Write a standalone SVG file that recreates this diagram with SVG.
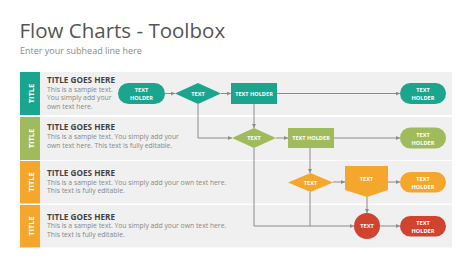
<svg xmlns="http://www.w3.org/2000/svg" width="474" height="266" viewBox="0 0 474 266">
<defs>
<marker id="ah" viewBox="0 0 6 6" refX="6" refY="3" markerWidth="4" markerHeight="4" orient="auto" markerUnits="userSpaceOnUse"><path d="M0,0 L6,3 L0,6 z" fill="#8c8c8c"/></marker>
</defs>
<style>
.h1{font-family:"Open Sans","Liberation Sans",sans-serif;font-size:20.5px;fill:#555}
.sub{font-family:"Open Sans","Liberation Sans",sans-serif;font-size:9px;fill:#8a8a8a}
.bg{fill:#f0f0f0}
.bar-text{font-family:"Open Sans","Liberation Sans",sans-serif;font-size:7.5px;font-weight:bold;fill:#fff}
.tt{font-family:"Open Sans","Liberation Sans",sans-serif;font-size:8.2px;font-weight:bold;fill:#444}
.bd{font-family:"Open Sans","Liberation Sans",sans-serif;font-size:6.8px;fill:#888}
.nt{font-family:"Open Sans","Liberation Sans",sans-serif;font-size:5.6px;font-weight:bold;fill:#fff;text-anchor:middle}
.teal{fill:#1aa68e}
.green{fill:#9fbb5c}
.orange{fill:#f4a72c}
.red{fill:#d0432f}
.c{fill:none;stroke:#8c8c8c;stroke-width:1}
</style>
<rect width="474" height="266" fill="#fff"/>
<text class="h1" x="19.5" y="38">Flow Charts - Toolbox</text>
<text class="sub" x="20" y="53.5">Enter your subhead line here</text>

<g id="row1">
<rect class="bg" x="40" y="72" width="412" height="43"/>
<rect class="teal" x="20" y="72" width="20" height="43"/>
<text class="bar-text" transform="translate(33.5,93.5) rotate(-90)" text-anchor="middle">TITLE</text>
<text class="tt" x="47" y="83">TITLE GOES HERE</text>
<text class="bd" x="47" y="92">This is a sample text.</text>
<text class="bd" x="47" y="100">You simply add your</text>
<text class="bd" x="47" y="108.5">own text here.</text>
</g>
<g id="row2">
<rect class="bg" x="40" y="117" width="412" height="43"/>
<rect class="green" x="20" y="117" width="20" height="43"/>
<text class="bar-text" transform="translate(33.5,138.5) rotate(-90)" text-anchor="middle">TITLE</text>
<text class="tt" x="47" y="130">TITLE GOES HERE</text>
<text class="bd" x="47" y="139">This is a sample text. You simply add your</text>
<text class="bd" x="47" y="147.5">own text here. This text is fully editable.</text>
</g>
<g id="row3">
<rect class="bg" x="40" y="161" width="412" height="42.5"/>
<rect class="orange" x="20" y="161" width="20" height="42.5"/>
<text class="bar-text" transform="translate(33.5,182) rotate(-90)" text-anchor="middle">TITLE</text>
<text class="tt" x="47" y="176">TITLE GOES HERE</text>
<text class="bd" x="47" y="184.5">This is a sample text. You simply add your own text here.</text>
<text class="bd" x="47" y="192.5">This text is fully editable.</text>
</g>
<g id="row4">
<rect class="bg" x="40" y="205" width="412" height="42.5"/>
<rect class="orange" x="20" y="205" width="20" height="42.5"/>
<text class="bar-text" transform="translate(33.5,226) rotate(-90)" text-anchor="middle">TITLE</text>
<text class="tt" x="47" y="219.5">TITLE GOES HERE</text>
<text class="bd" x="47" y="228">This is a sample text. You simply add your own text here.</text>
<text class="bd" x="47" y="236.5">This text is fully editable.</text>
</g>

<g id="connectors">
<line class="c" x1="165" y1="93.5" x2="175" y2="93.5" marker-end="url(#ah)"/>
<line class="c" x1="221" y1="93.5" x2="231" y2="93.5" marker-end="url(#ah)"/>
<line class="c" x1="277" y1="93.5" x2="400" y2="93.5" marker-end="url(#ah)"/>
<polyline class="c" points="198,104 198,138 232,138" marker-end="url(#ah)"/>
<line class="c" x1="254" y1="104" x2="254" y2="128" marker-end="url(#ah)"/>
<line class="c" x1="276" y1="138" x2="288" y2="138" marker-end="url(#ah)"/>
<line class="c" x1="334" y1="138" x2="400" y2="138" marker-end="url(#ah)"/>
<line class="c" x1="310" y1="148" x2="310" y2="173" marker-end="url(#ah)"/>
<polyline class="c" points="254,148 254,226 354,226" marker-end="url(#ah)"/>
<line class="c" x1="310" y1="192" x2="310" y2="226"/>
<line class="c" x1="333" y1="182" x2="345" y2="182" marker-end="url(#ah)"/>
<line class="c" x1="388" y1="182" x2="400" y2="182" marker-end="url(#ah)"/>
<line class="c" x1="367" y1="197" x2="367" y2="213" marker-end="url(#ah)"/>
<line class="c" x1="380" y1="226" x2="400" y2="226" marker-end="url(#ah)"/>
</g>

<g id="n1-start"><rect class="teal" x="118" y="83" width="47" height="21" rx="10.5"/><text class="nt" x="141.5" y="92">TEXT</text><text class="nt" x="141.5" y="100">HOLDER</text></g>
<g id="n1-decision"><polygon class="teal" points="175,93.5 198,83 221,93.5 198,104"/><text class="nt" x="198" y="95.5">TEXT</text></g>
<g id="n1-process"><rect class="teal" x="231" y="83" width="46" height="21"/><text class="nt" x="254" y="95.5">TEXT HOLDER</text></g>
<g id="n1-end"><rect class="teal" x="400" y="83" width="46" height="21" rx="10.5"/><text class="nt" x="423" y="92">TEXT</text><text class="nt" x="423" y="100">HOLDER</text></g>

<g id="n2-decision"><polygon class="green" points="232,138 254,128 276,138 254,148"/><text class="nt" x="254" y="140">TEXT</text></g>
<g id="n2-process"><rect class="green" x="288" y="128" width="46" height="20"/><text class="nt" x="311" y="140">TEXT HOLDER</text></g>
<g id="n2-end"><rect class="green" x="400" y="127.5" width="46" height="21" rx="10.5"/><text class="nt" x="423" y="136.5">TEXT</text><text class="nt" x="423" y="144.5">HOLDER</text></g>

<g id="n3-decision"><polygon class="orange" points="288,182.5 310.5,173 333,182.5 310.5,192"/><text class="nt" x="310.5" y="184.5">TEXT</text></g>
<g id="n3-offpage"><polygon class="orange" points="345,166 388,166 388,190 367,197 345,190"/><text class="nt" x="366.5" y="181">TEXT</text></g>
<g id="n3-end"><rect class="orange" x="400" y="172" width="46" height="20.5" rx="10.25"/><text class="nt" x="423" y="180.5">TEXT</text><text class="nt" x="423" y="188.5">HOLDER</text></g>

<g id="n4-circle"><circle class="red" cx="367" cy="226" r="13"/><text class="nt" x="367" y="228">TEXT</text></g>
<g id="n4-end"><rect class="red" x="400" y="216" width="46" height="20.5" rx="10.25"/><text class="nt" x="423" y="224.5">TEXT</text><text class="nt" x="423" y="232.5">HOLDER</text></g>
</svg>
